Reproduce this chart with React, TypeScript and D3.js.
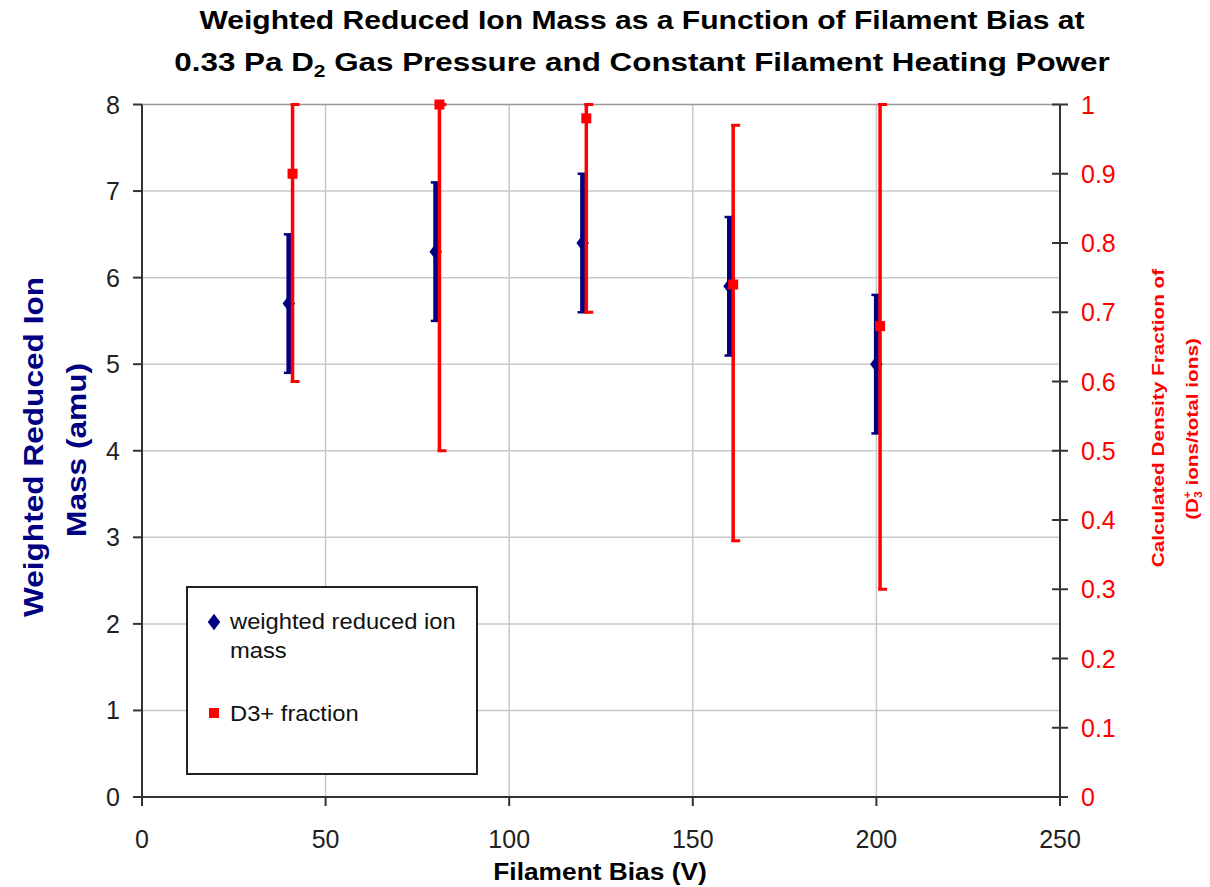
import React, { useEffect, useRef } from 'react';
import * as d3 from 'd3';

// weighted reduced ion mass (left axis)
const biasMass = [40, 80, 120, 160, 200];
const massValues = [5.7, 6.3, 6.4, 5.9, 5.0];
const massErr = [0.8, 0.8, 0.8, 0.8, 0.8];

// D3+ fraction (right axis)
const biasFrac = [41, 81, 121, 161, 201];
const fracValues = [0.9, 1.0, 0.98, 0.74, 0.68];
const fracLow = [0.6, 0.5, 0.7, 0.37, 0.3];
const fracHigh = [1.0, 1.0, 1.0, 0.97, 1.0];

const xTicks = [0, 50, 100, 150, 200, 250];
const leftTicks = [0, 1, 2, 3, 4, 5, 6, 7, 8];
const rightTicks = [0, 0.1, 0.2, 0.3, 0.4, 0.5, 0.6, 0.7, 0.8, 0.9, 1];
const rightTickLabels = ['0', '0.1', '0.2', '0.3', '0.4', '0.5', '0.6', '0.7', '0.8', '0.9', '1'];

const NAVY = '#000080';
const RED = '#ff0000';
const FONT = '"Liberation Sans", Arial, sans-serif';

function addText(g: any, x: number, y: number, str: string, size: number, opts: any = {}) {
  const rot = opts.rotate || 0;
  const sx = opts.sx || 1;
  return g.append('text')
    .attr('transform', `translate(${x},${y}) rotate(${rot}) scale(${sx},1)`)
    .attr('text-anchor', opts.anchor || 'middle')
    .attr('font-family', FONT)
    .attr('font-size', size)
    .attr('font-weight', opts.bold ? 'bold' : 'normal')
    .attr('fill', opts.color || '#000')
    .text(str);
}

export default function App() {
  const ref = useRef<SVGSVGElement>(null);

  useEffect(() => {
    const svg = d3.select(ref.current);
    svg.selectAll('*').remove();

    const x = d3.scaleLinear().domain([0, 250]).range([142, 1060]);
    const yL = d3.scaleLinear().domain([0, 8]).range([797, 104.5]);
    const yR = d3.scaleLinear().domain([0, 1]).range([797, 104.5]);

    const g = svg.append('g');

    // gridlines
    g.selectAll('.vgrid').data(xTicks.slice(1, -1)).enter().append('line')
      .attr('x1', d => x(d)).attr('x2', d => x(d))
      .attr('y1', yL(0)).attr('y2', yL(8))
      .attr('stroke', '#c8c8c8').attr('stroke-width', 1.5);
    g.selectAll('.hgrid').data(leftTicks.slice(1)).enter().append('line')
      .attr('x1', x(0)).attr('x2', x(250))
      .attr('y1', d => yL(d)).attr('y2', d => yL(d))
      .attr('stroke', d => d === 8 ? '#999' : '#c8c8c8').attr('stroke-width', 1.5);

    // axes lines
    const axisColor = '#333';
    g.append('line').attr('x1', x(0)).attr('x2', x(0)).attr('y1', yL(0)).attr('y2', yL(8))
      .attr('stroke', axisColor).attr('stroke-width', 2);
    g.append('line').attr('x1', x(250)).attr('x2', x(250)).attr('y1', yL(0)).attr('y2', yL(8))
      .attr('stroke', axisColor).attr('stroke-width', 2);
    g.append('line').attr('x1', x(0) - 8).attr('x2', x(250)).attr('y1', yL(0)).attr('y2', yL(0))
      .attr('stroke', axisColor).attr('stroke-width', 2);

    // left ticks
    leftTicks.forEach(t => {
      g.append('line').attr('x1', x(0) - 9).attr('x2', x(0)).attr('y1', yL(t)).attr('y2', yL(t))
        .attr('stroke', axisColor).attr('stroke-width', 2);
      addText(g, x(0) - 22, yL(t) + 9, String(t), 25, { anchor: 'end', color: '#222' });
    });
    // bottom ticks
    xTicks.forEach(t => {
      g.append('line').attr('x1', x(t)).attr('x2', x(t)).attr('y1', yL(0)).attr('y2', yL(0) + 9)
        .attr('stroke', axisColor).attr('stroke-width', 2);
      addText(g, x(t), 848, String(t), 25, { color: '#222' });
    });
    // right ticks
    rightTicks.forEach((t, i) => {
      g.append('line').attr('x1', x(250) - 8).attr('x2', x(250) + 8).attr('y1', yR(t)).attr('y2', yR(t))
        .attr('stroke', axisColor).attr('stroke-width', 2);
      addText(g, x(250) + 21, yR(t) + 9, rightTickLabels[i], 25, { anchor: 'start', color: RED });
    });

    // mass error bars
    const massG = g.append('g');
    biasMass.forEach((b, i) => {
      const cx = x(b);
      const lo = yL(massValues[i] - massErr[i]);
      const hi = yL(massValues[i] + massErr[i]);
      massG.append('line').attr('x1', cx).attr('x2', cx).attr('y1', lo).attr('y2', hi)
        .attr('stroke', NAVY).attr('stroke-width', 5);
      [lo, hi].forEach(yy => massG.append('line').attr('x1', cx - 5).attr('x2', cx + 5)
        .attr('y1', yy).attr('y2', yy).attr('stroke', NAVY).attr('stroke-width', 2.5));
    });
    massG.selectAll('path').data(biasMass).enter().append('path')
      .attr('d', d3.symbol().type(d3.symbolDiamond).size(80)())
      .attr('transform', (d, i) => `translate(${x(d)},${yL(massValues[i])}) scale(1.3,1)`)
      .attr('fill', NAVY);

    // fraction error bars
    const fracG = g.append('g');
    biasFrac.forEach((b, i) => {
      const cx = x(b);
      const lo = yR(fracLow[i]);
      const hi = yR(Math.min(1, fracHigh[i]));
      fracG.append('line').attr('x1', cx).attr('x2', cx).attr('y1', lo).attr('y2', hi)
        .attr('stroke', RED).attr('stroke-width', 3.5);
      [lo, hi].forEach(yy => fracG.append('line').attr('x1', cx - 2).attr('x2', cx + 7)
        .attr('y1', yy).attr('y2', yy).attr('stroke', RED).attr('stroke-width', 3));
    });
    fracG.selectAll('rect').data(biasFrac).enter().append('rect')
      .attr('x', d => x(d) - 5).attr('y', (d, i) => yR(fracValues[i]) - 5)
      .attr('width', 10).attr('height', 10).attr('fill', RED);

    // legend
    const lg = g.append('g');
    lg.append('rect').attr('x', 187).attr('y', 587).attr('width', 290).attr('height', 187)
      .attr('fill', '#fff').attr('stroke', '#222').attr('stroke-width', 2);
    lg.append('path').attr('d', d3.symbol().type(d3.symbolDiamond).size(80)())
      .attr('transform', 'translate(214,622) scale(1.3,1)').attr('fill', NAVY);
    addText(lg, 230, 629, 'weighted reduced ion', 22, { anchor: 'start', color: '#111', sx: 1.08 });
    addText(lg, 230, 658, 'mass', 22, { anchor: 'start', color: '#111', sx: 1.08 });
    lg.append('rect').attr('x', 209).attr('y', 708).attr('width', 10).attr('height', 10).attr('fill', RED);
    addText(lg, 230, 721, 'D3+ fraction', 22, { anchor: 'start', color: '#111', sx: 1.08 });

    // title
    addText(g, 642, 29, 'Weighted Reduced Ion Mass as a Function of Filament Bias at', 25.5, { bold: true, sx: 1.18 });
    const t2 = g.append('text')
      .attr('transform', `translate(642,71) scale(1.23,1)`)
      .attr('text-anchor', 'middle').attr('font-family', FONT).attr('font-size', 25.5)
      .attr('font-weight', 'bold').attr('fill', '#000');
    t2.append('tspan').text('0.33 Pa D');
    t2.append('tspan').attr('dy', 6).attr('font-size', 17).text('2');
    t2.append('tspan').attr('dy', -6).text(' Gas Pressure and Constant Filament Heating Power');

    // axis titles
    addText(g, 600, 880, 'Filament Bias (V)', 23.5, { bold: true, sx: 1.12 });
    addText(g, 43, 447, 'Weighted Reduced Ion', 27.5, { bold: true, rotate: -90, color: NAVY, sx: 1.15 });
    addText(g, 86, 450, 'Mass (amu)', 27.5, { bold: true, rotate: -90, color: NAVY, sx: 1.15 });

    addText(g, 1164, 418, 'Calculated Density Fraction of', 17, { bold: true, rotate: -90, color: RED, sx: 1.22 });
    const r2 = g.append('text')
      .attr('transform', `translate(1198,429) rotate(-90) scale(1.22,1)`)
      .attr('text-anchor', 'middle').attr('font-family', FONT).attr('font-size', 17)
      .attr('font-weight', 'bold').attr('fill', RED);
    r2.append('tspan').text('(D');
    r2.append('tspan').attr('dy', 4).attr('font-size', 10).text('3');
    r2.append('tspan').attr('dy', -11).attr('dx', -6).attr('font-size', 10).text('+');
    r2.append('tspan').attr('dy', 7).text(' ions/total ions)');
  }, []);

  return (
    <svg ref={ref} width={1210} height={887}
      style={{ position: 'absolute', left: 0, top: 0, background: '#fff' }} />
  );
}
